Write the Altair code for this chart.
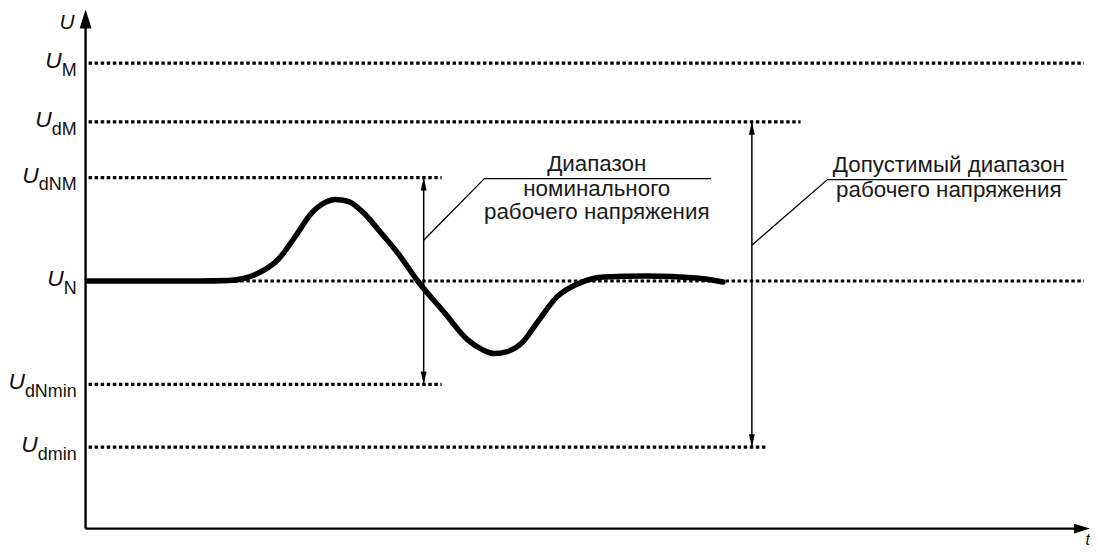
import altair as alt
import pandas as pd

# ---- data (schematic units: x = time, y = voltage) ----
level_names = ["M", "dM", "dNM", "N", "dNmin", "dmin"]
level_values = [46.8, 40.9, 35.3, 24.9, 14.5, 8.2]
level_ends = [100.4, 71.9, 35.8, 100.4, 35.8, 68.6]

curve_x = [0.2, 6.4, 11.4, 14.4, 15.9, 17.4, 19.4, 21.1, 22.7, 24.1, 25.1, 26.4,
           27.9, 29.4, 31.4, 33.4, 36.1, 38.4, 39.9, 41.1, 42.4, 43.9, 45.4,
           47.4, 49.7, 52.1, 56.4, 61.4, 64.1]
curve_y = [24.9, 24.9, 24.9, 24.95, 25.15, 25.7, 27.1, 29.4, 31.7, 32.8, 33.1, 32.9,
           31.8, 30.1, 27.7, 24.9, 21.7, 19.0, 18.0, 17.6, 17.8, 18.7, 20.7,
           23.3, 24.7, 25.3, 25.4, 25.2, 24.8]

range_names = ["nominal", "permitted"]
range_x = [34.0, 67.0]
range_low = [14.5, 8.2]
range_high = [35.3, 40.9]

note_lines = [["Диапазон", "номинального", "рабочего напряжения"],
              ["Допустимый диапазон", "рабочего напряжения"]]

# ---- layout helpers ----
W, H = 1088, 539
XD = [-7.8, -7.8 + W / 10]
YD = [52.2 - H / 10, 52.2]
FONT = "Liberation Sans"


def X(f, **kw):
    return alt.X(f, type="quantitative", scale=alt.Scale(domain=XD, nice=False, zero=False), axis=None, **kw)


def Y(f, **kw):
    return alt.Y(f, type="quantitative", scale=alt.Scale(domain=YD, nice=False, zero=False), axis=None, **kw)


ARIAL = {"d": 0.556, "M": 0.833, "N": 0.722, "m": 0.833, "i": 0.222, "n": 0.556}
SUB = 18
UFS = 23

levels = pd.DataFrame({"name": level_names, "y": level_values, "x2": level_ends})
levels["x"] = 0.3
levels["sub_x"] = -0.9
levels["u_x"] = [-0.9 - sum(ARIAL[c] for c in n) * SUB / 10 for n in level_names]
levels["u_y"] = levels["y"] - 0.5
levels["sub_y"] = levels["y"] - 1.3
levels["u"] = "U"

dotted = alt.Chart(levels).mark_rule(color="black", strokeWidth=3.2, strokeDash=[3.5, 2.6]).encode(
    x=X("x"), x2="x2", y=Y("y"))

u_txt = alt.Chart(levels).mark_text(font=FONT, fontSize=UFS, fontStyle="italic", align="right",
                                    baseline="alphabetic", color="#111111").encode(
    x=X("u_x"), y=Y("u_y"), text="u")
sub_txt = alt.Chart(levels).mark_text(font=FONT, fontSize=SUB, align="right",
                                      baseline="alphabetic", color="#111111").encode(
    x=X("sub_x"), y=Y("sub_y"), text="name")

curve = alt.Chart(pd.DataFrame({"x": curve_x, "y": curve_y})).mark_line(
    color="black", strokeWidth=5.5, interpolate="monotone", strokeCap="round").encode(
    x=X("x"), y=Y("y"), order=alt.Order("x:Q"))

# axes with arrows
axes = pd.DataFrame({"x": [0.0, 0.0], "x2": [0.0, 99.6], "y": [0.0, 0.0], "y2": [50.6, 0.0]})
axis_rules = alt.Chart(axes).mark_rule(color="black", strokeWidth=2.4).encode(
    x=X("x"), x2="x2", y=Y("y"), y2="y2")
up_head = alt.Chart(pd.DataFrame({"x": [0.0], "y": [51.25]})).mark_point(
    shape="M0,-1L0.63,1L-0.63,1Z", size=361, filled=True, color="black", opacity=1).encode(x=X("x"), y=Y("y"))
right_head = alt.Chart(pd.DataFrame({"x": [100.2], "y": [0.0]})).mark_point(
    shape="M1,0L-1,0.62L-1,-0.62Z", size=256, filled=True, color="black", opacity=1).encode(x=X("x"), y=Y("y"))

axis_lbl = pd.DataFrame({"t": ["U", "t"], "x": [-1.1, 101.0], "y": [50.2, -1.6]})
axis_u = alt.Chart(axis_lbl.iloc[[0]]).mark_text(font=FONT, fontSize=21, fontStyle="italic", align="right",
                                                 baseline="alphabetic", color="#111111").encode(
    x=X("x"), y=Y("y"), text="t")
axis_t = alt.Chart(axis_lbl.iloc[[1]]).mark_text(font=FONT, fontSize=16, fontStyle="italic", align="right",
                                                 baseline="alphabetic", color="#111111").encode(
    x=X("x"), y=Y("y"), text="t")

# double arrows
rng = pd.DataFrame({"name": range_names, "x": range_x, "lo": range_low, "hi": range_high})
rng_rule = alt.Chart(rng).mark_rule(color="black", strokeWidth=1.5).encode(x=X("x"), y=Y("lo"), y2="hi")
heads_up = rng.assign(y=rng["hi"] - 0.65)
heads_dn = rng.assign(y=rng["lo"] + 0.65)
h_up = alt.Chart(heads_up).mark_point(shape="M0,-1L0.46,1L-0.46,1Z", size=169, filled=True,
                                      color="black", opacity=1).encode(x=X("x"), y=Y("y"))
h_dn = alt.Chart(heads_dn).mark_point(shape="M0,1L0.46,-1L-0.46,-1Z", size=169, filled=True,
                                      color="black", opacity=1).encode(x=X("x"), y=Y("y"))

# leader lines
leader = pd.DataFrame({
    "g": ["a", "a", "a", "b", "b", "b"],
    "i": [0, 1, 2, 0, 1, 2],
    "x": [34.0, 40.1, 62.9, 67.0, 74.6, 98.7],
    "y": [29.0, 35.2, 35.2, 28.5, 35.1, 35.1],
})
leaders = alt.Chart(leader).mark_line(color="black", strokeWidth=1.3).encode(
    x=X("x"), y=Y("y"), detail="g:N", order="i:Q")

notes = pd.DataFrame({
    "text": note_lines[0] + note_lines[1],
    "x": [51.4, 51.4, 51.4, 86.8, 86.8],
    "y": [36.0, 33.4, 31.1, 35.9, 33.3],
})
note_txt = alt.Chart(notes).mark_text(font=FONT, fontSize=22.5, align="center", baseline="alphabetic",
                                      color="#1a1a1a").encode(x=X("x"), y=Y("y"), text="text")

chart = alt.layer(dotted, curve, axis_rules, up_head, right_head, rng_rule, h_up, h_dn, leaders,
                  u_txt, sub_txt, axis_u, axis_t, note_txt).properties(
    width=W, height=H, autosize=alt.AutoSizeParams(type="none"), padding=0, background="white"
).configure_view(stroke=None)

chart.save("out.html", embed_options={"renderer": "svg", "actions": False})
